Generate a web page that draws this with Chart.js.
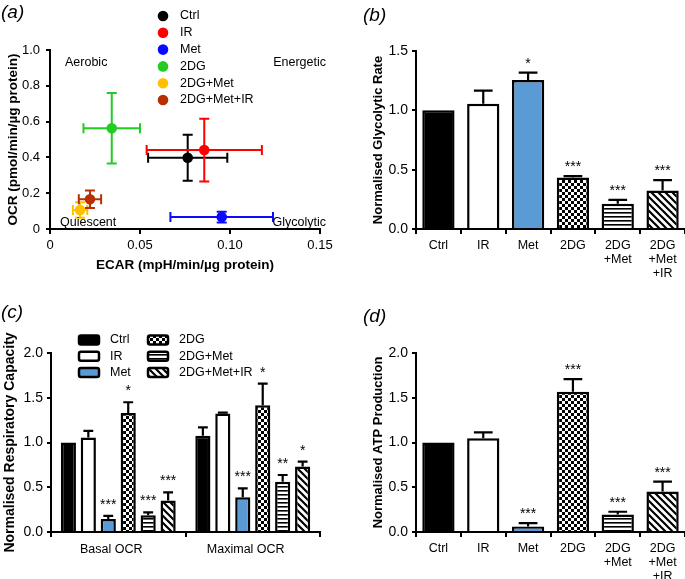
<!DOCTYPE html>
<html lang="en">
<head>
<meta charset="utf-8">
<script src="https://cdn.jsdelivr.net/npm/chart.js@4.4.0/dist/chart.umd.min.js"></script>
<style>
  body { margin: 0; background: #fff; font-family: Arial, "Liberation Sans", sans-serif; }
  #fig { position: relative; width: 685px; height: 579px; overflow: hidden; }
  .panel { position: absolute; }
  .tag { position: absolute; font-style: italic; font-size: 19px; line-height: 22px; }
</style>
</head>
<body>
<div id="fig">
  <div class="panel" style="left:0;top:0"><canvas id="chartA" width="340" height="290"></canvas></div>
  <div class="panel" style="left:340px;top:0"><canvas id="chartB" width="345" height="290"></canvas></div>
  <div class="panel" style="left:0;top:290px"><canvas id="chartC" width="340" height="289"></canvas></div>
  <div class="panel" style="left:340px;top:290px"><canvas id="chartD" width="345" height="289"></canvas></div>
  <div class="tag" style="left:1px;top:1px">(a)</div>
  <div class="tag" style="left:363px;top:4px">(b)</div>
  <div class="tag" style="left:1px;top:301px">(c)</div>
  <div class="tag" style="left:363px;top:305px">(d)</div>
</div>
<script>
// ---- data ----
var groups = ['Ctrl', 'IR', 'Met', '2DG', '2DG+Met', '2DG+Met+IR'];
var dotColors = ['#000000', '#ff0000', '#0a0aff', '#22cc22', '#ffc000', '#b83000'];
var fills = ['black', 'white', 'blue', 'checker', 'hstripe', 'diag'];

// (a) energy map
var ecarMean = [0.0765, 0.0857, 0.0954, 0.0343, 0.0167, 0.0222];
var ecarErr  = [0.022, 0.032, 0.0285, 0.0157, 0.004, 0.0062];
var ocrMean  = [0.398, 0.441, 0.067, 0.563, 0.106, 0.166];
var ocrErr   = [0.128, 0.175, 0.030, 0.197, 0.043, 0.049];

// (b) glycolytic rate
var barLabels = ['Ctrl', 'IR', 'Met', '2DG', ['2DG', '+Met'], ['2DG', '+Met', '+IR']];
var glycoMean  = [1.0, 1.056, 1.256, 0.434, 0.213, 0.325];
var glycoErr   = [0, 0.11, 0.061, 0.012, 0.033, 0.087];
var glycoStars = ['', '', '*', '***', '***', '***'];

// (c) respiratory capacity
var respLabels = ['Basal OCR', 'Maximal OCR'];
var basalMean  = [1.0, 1.057, 0.145, 1.33, 0.186, 0.353];
var basalErr   = [0, 0.073, 0.035, 0.12, 0.033, 0.089];
var basalStars = ['', '', '***', '*', '***', '***'];
var maxMean    = [1.076, 1.325, 0.387, 1.415, 0.562, 0.733];
var maxErr     = [0.094, 0.008, 0.10, 0.242, 0.075, 0.053];
var maxStars   = ['', '', '***', '*', '**', '*'];

// (d) ATP production
var atpMean  = [1.0, 1.047, 0.062, 1.566, 0.196, 0.452];
var atpErr   = [0, 0.067, 0.038, 0.141, 0.030, 0.111];
var atpStars = ['', '', '***', '***', '***', '***'];

Chart.defaults.font.family = 'Arial, "Liberation Sans", sans-serif';
Chart.defaults.color = '#000';
Chart.defaults.animation = false;
Chart.defaults.plugins.legend.display = false;
Chart.defaults.plugins.tooltip.enabled = false;

function makeFill(kind) {
  if (kind === 'black') return '#000';
  if (kind === 'white') return '#fff';
  if (kind === 'blue') return '#5b9bd5';
  var c = document.createElement('canvas');
  var g = c.getContext('2d');
  if (kind === 'checker') {
    c.width = c.height = 6;
    g.fillStyle = '#fff'; g.fillRect(0, 0, 6, 6);
    g.fillStyle = '#000'; g.fillRect(0, 0, 3, 3); g.fillRect(3, 3, 3, 3);
  } else if (kind === 'hstripe') {
    c.width = 4; c.height = 4;
    g.fillStyle = '#fff'; g.fillRect(0, 0, 4, 4);
    g.fillStyle = '#000'; g.fillRect(0, 0, 4, 1.6);
  } else {
    c.width = c.height = 7;
    g.fillStyle = '#fff'; g.fillRect(0, 0, 7, 7);
    g.strokeStyle = '#000'; g.lineWidth = 2.2;
    g.beginPath();
    g.moveTo(-1, -1); g.lineTo(8, 8);
    g.moveTo(6, -1); g.lineTo(8, 1);
    g.moveTo(-1, 6); g.lineTo(1, 8);
    g.stroke();
  }
  return g.createPattern(c, 'repeat');
}
var patterns = fills.map(makeFill);

function grid() {
  return { display: true, drawOnChartArea: false, drawTicks: true, tickLength: 5, color: '#000', lineWidth: 2 };
}
function border() { return { display: true, color: '#000', width: 2 }; }

// error bars + significance stars on bars
var barExtras = {
  id: 'barExtras',
  afterDatasetsDraw: function(chart, args, opts) {
    var ctx = chart.ctx, y = chart.scales.y;
    chart.data.datasets.forEach(function(ds, di) {
      chart.getDatasetMeta(di).data.forEach(function(bar, i) {
        var v = ds.data[i], e = ds.errors[i], top = bar.y;
        ctx.save();
        ctx.strokeStyle = '#000'; ctx.lineWidth = 2.2;
        if (e > 0) {
          var yE = y.getPixelForValue(v + e);
          var half = bar.width * opts.cap / 2;
          ctx.beginPath();
          ctx.moveTo(bar.x, bar.y); ctx.lineTo(bar.x, yE);
          ctx.moveTo(bar.x - half, yE); ctx.lineTo(bar.x + half, yE);
          ctx.stroke();
          top = yE;
        }
        if (ds.stars[i]) {
          ctx.fillStyle = '#000';
          ctx.font = '14px Arial, "Liberation Sans", sans-serif';
          ctx.textAlign = 'center';
          ctx.textBaseline = 'alphabetic';
          ctx.fillText(ds.stars[i], bar.x, top - opts.gap);
        }
        ctx.restore();
      });
    });
  }
};

// ---------- (a) ----------
var xyErrors = {
  id: 'xyErrors',
  beforeDatasetsDraw: function(chart) {
    var ctx = chart.ctx, xs = chart.scales.x, ys = chart.scales.y;
    ctx.save();
    ctx.lineWidth = 2;
    for (var i = 0; i < groups.length; i++) {
      var cx = xs.getPixelForValue(ecarMean[i]), cy = ys.getPixelForValue(ocrMean[i]);
      var x0 = xs.getPixelForValue(ecarMean[i] - ecarErr[i]), x1 = xs.getPixelForValue(ecarMean[i] + ecarErr[i]);
      var y0 = ys.getPixelForValue(ocrMean[i] - ocrErr[i]), y1 = ys.getPixelForValue(ocrMean[i] + ocrErr[i]);
      ctx.strokeStyle = dotColors[i];
      ctx.beginPath();
      ctx.moveTo(x0, cy); ctx.lineTo(x1, cy);
      ctx.moveTo(x0, cy - 5); ctx.lineTo(x0, cy + 5);
      ctx.moveTo(x1, cy - 5); ctx.lineTo(x1, cy + 5);
      ctx.moveTo(cx, y0); ctx.lineTo(cx, y1);
      ctx.moveTo(cx - 5, y0); ctx.lineTo(cx + 5, y0);
      ctx.moveTo(cx - 5, y1); ctx.lineTo(cx + 5, y1);
      ctx.stroke();
    }
    ctx.restore();
  },
  afterDraw: function(chart) {
    var ctx = chart.ctx, a = chart.chartArea;
    ctx.save();
    ctx.fillStyle = '#000';
    ctx.font = '12.5px Arial, "Liberation Sans", sans-serif';
    ctx.textBaseline = 'middle';
    ctx.textAlign = 'left';
    ctx.fillText('Aerobic', a.left + 15, a.top + 13);
    ctx.fillText('Quiescent', a.left + 10, a.bottom - 6);
    ctx.textAlign = 'right';
    ctx.fillText('Energetic', a.right + 6, a.top + 13);
    ctx.fillText('Glycolytic', a.right + 6, a.bottom - 6);
    // legend
    ctx.textAlign = 'left';
    chart.data.datasets.forEach(function(ds, i) {
      var ly = 16 + i * 16.8;
      ctx.fillStyle = ds.backgroundColor;
      ctx.beginPath(); ctx.arc(163, ly, 5.3, 0, Math.PI * 2); ctx.fill();
      ctx.fillStyle = '#000';
      ctx.fillText(ds.label, 180, ly);
    });
    ctx.restore();
  }
};

new Chart(document.getElementById('chartA'), {
  type: 'scatter',
  data: {
    datasets: groups.map(function(g, i) {
      return { label: g, data: [{ x: ecarMean[i], y: ocrMean[i] }], backgroundColor: dotColors[i],
               borderWidth: 0, pointRadius: 5.3 };
    })
  },
  options: {
    responsive: false,
    layout: { padding: { top: 50, right: 20, left: 0, bottom: 0 } },
    scales: {
      x: {
        type: 'linear', min: 0, max: 0.15,
        ticks: { stepSize: 0.05, font: { size: 13 }, padding: 4,
                 callback: function(v) { return v === 0 ? '0' : v.toFixed(2); } },
        grid: grid(), border: border(),
        title: { display: true, text: 'ECAR (mpH/min/µg protein)', font: { size: 13.5, weight: 'bold' },
                 padding: { top: 0, bottom: 17 } },
        afterFit: function(s) { s.height = 61; }
      },
      y: {
        min: 0, max: 1,
        ticks: { stepSize: 0.2, font: { size: 13 }, padding: 6,
                 callback: function(v) { return v === 0 ? '0' : v.toFixed(1); } },
        grid: Object.assign(grid(), { tickLength: 4 }), border: border(),
        title: { display: true, text: 'OCR (pmol/min/µg protein)', font: { size: 13.5, weight: 'bold' },
                 padding: { top: 5, bottom: 0 } },
        afterFit: function(s) { s.width = 50; }
      }
    }
  },
  plugins: [xyErrors]
});

// ---------- bar panels (b) and (d) ----------
function singleBar(id, means, errs, stars, yMax, title, top, bottom) {
  new Chart(document.getElementById(id), {
    type: 'bar',
    data: {
      labels: barLabels,
      datasets: [{ data: means, errors: errs, stars: stars, backgroundColor: patterns,
                   borderColor: '#000', borderWidth: 2.5, borderSkipped: 'bottom',
                   categoryPercentage: 1, barPercentage: 0.72 }]
    },
    options: {
      responsive: false,
      layout: { padding: { top: top, right: 0, left: 0, bottom: 0 } },
      scales: {
        x: {
          offset: true,
          ticks: { font: { size: 12.5, lineHeight: 1.1 }, padding: 5, maxRotation: 0, autoSkip: false },
          grid: Object.assign(grid(), { offset: true }), border: border(),
          afterFit: function(s) { s.height = bottom; }
        },
        y: {
          min: 0, max: yMax,
          ticks: { stepSize: 0.5, font: { size: 14 }, padding: 4,
                   callback: function(v) { return v.toFixed(1); } },
          grid: Object.assign(grid(), { tickLength: 4 }), border: border(),
          title: { display: true, text: title, font: { size: 13, weight: 'bold' }, padding: { top: 31, bottom: 0 } },
          afterFit: function(s) { s.width = 76; }
        }
      },
      plugins: { barExtras: { cap: 0.58, gap: 5 } }
    },
    plugins: [barExtras]
  });
}
singleBar('chartB', glycoMean, glycoErr, glycoStars, 1.5, 'Normalised Glycolytic Rate', 51, 61);
singleBar('chartD', atpMean, atpErr, atpStars, 2.0, 'Normalised ATP Production', 63, 47);

// ---------- (c) ----------
var boxLegend = {
  id: 'boxLegend',
  afterDraw: function(chart) {
    var ctx = chart.ctx;
    ctx.save();
    ctx.font = '12.5px Arial, "Liberation Sans", sans-serif';
    ctx.textBaseline = 'middle';
    ctx.textAlign = 'left';
    chart.data.datasets.forEach(function(ds, i) {
      var col = Math.floor(i / 3), row = i % 3;
      var bx = 79 + col * 69, cy = 50 + row * 16.3;
      ctx.fillStyle = ds.backgroundColor;
      ctx.strokeStyle = '#000'; ctx.lineWidth = 2.5;
      ctx.beginPath();
      if (ctx.roundRect) ctx.roundRect(bx, cy - 4.5, 20, 9, 2); else ctx.rect(bx, cy - 4.5, 20, 9);
      ctx.fill(); ctx.stroke();
      ctx.fillStyle = '#000';
      ctx.fillText(ds.label, bx + 31, cy);
    });
    ctx.restore();
  }
};

new Chart(document.getElementById('chartC'), {
  type: 'bar',
  data: {
    labels: respLabels,
    datasets: groups.map(function(g, i) {
      return { label: g, data: [basalMean[i], maxMean[i]], errors: [basalErr[i], maxErr[i]],
               stars: [basalStars[i], maxStars[i]], backgroundColor: patterns[i],
               borderColor: '#000', borderWidth: 2.5, borderSkipped: 'bottom',
               categoryPercentage: 0.89, barPercentage: 0.76 };
    })
  },
  options: {
    responsive: false,
    layout: { padding: { top: 63, right: 20, left: 0, bottom: 0 } },
    scales: {
      x: {
        offset: true,
        ticks: { font: { size: 12.5 }, padding: 5, labelOffset: -7 },
        grid: Object.assign(grid(), { offset: true }), border: border(),
        afterFit: function(s) { s.height = 47; }
      },
      y: {
        min: 0, max: 2,
        ticks: { stepSize: 0.5, font: { size: 14 }, padding: 4,
                 callback: function(v) { return v.toFixed(1); } },
        grid: Object.assign(grid(), { tickLength: 4 }), border: border(),
        title: { display: true, text: 'Normalised Respiratory Capacity', font: { size: 14, weight: 'bold' },
                 padding: { top: 2, bottom: 0 } },
        afterFit: function(s) { s.width = 51; }
      }
    },
    plugins: { barExtras: { cap: 0.65, gap: 7 } }
  },
  plugins: [barExtras, boxLegend]
});
</script>
</body>
</html>
